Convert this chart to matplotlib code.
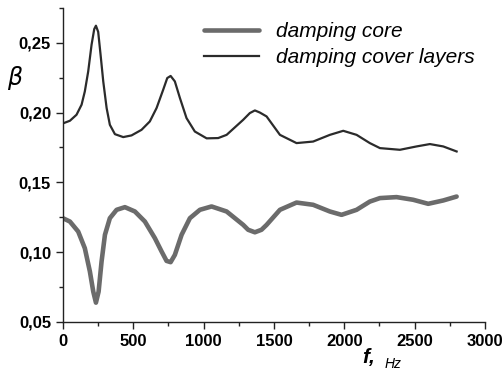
import matplotlib.pyplot as plt
from matplotlib.ticker import MultipleLocator, FuncFormatter

# frequency points (Hz) and damping values
f_cover = [0, 50, 97, 133, 156, 180, 204, 223, 235, 251, 268, 287, 311, 334, 370,
           429, 488, 559, 618, 666, 713, 742, 766, 796, 832, 879, 938, 1022, 1104,
           1164, 1282, 1329, 1365, 1400, 1448, 1543, 1661, 1779, 1898, 1993, 2088,
           2182, 2254, 2396, 2514, 2609, 2704, 2799]
beta_cover = [0.1922, 0.1941, 0.1984, 0.2056, 0.2151, 0.2294, 0.2486, 0.2598,
              0.2622, 0.2578, 0.2414, 0.2223, 0.2032, 0.1912, 0.1845, 0.1824, 0.1836,
              0.1876, 0.1936, 0.2032, 0.2163, 0.2247, 0.2262, 0.2223, 0.2104, 0.196,
              0.1864, 0.1815, 0.1817, 0.184, 0.1948, 0.1996, 0.2015, 0.2, 0.1972,
              0.184, 0.1781, 0.1792, 0.184, 0.1869, 0.184, 0.1781, 0.1745, 0.1733,
              0.1757, 0.1774, 0.1757, 0.1721]

f_core = [0, 50, 109, 156, 192, 216, 235, 254, 275, 299, 334, 382, 441, 512, 583,
          654, 702, 737, 766, 796, 844, 903, 974, 1057, 1164, 1282, 1317, 1365, 1412,
          1448, 1543, 1661, 1779, 1898, 1981, 2088, 2182, 2254, 2372, 2490, 2597,
          2704, 2799]
beta_core = [0.1243, 0.1219, 0.1147, 0.1028, 0.0861, 0.0717, 0.0638, 0.0717, 0.0932,
             0.1124, 0.1243, 0.1303, 0.1322, 0.1291, 0.1219, 0.11, 0.1004, 0.0937,
             0.0928, 0.098, 0.1124, 0.1243, 0.1303, 0.1327, 0.1291, 0.1195, 0.116,
             0.1142, 0.116, 0.1195, 0.1303, 0.1355, 0.1339, 0.1291, 0.1267, 0.1303,
             0.1362, 0.1387, 0.1394, 0.1375, 0.1346, 0.137, 0.1398]

plt.rcParams['font.family'] = 'Liberation Sans'

fig = plt.figure(figsize=(5.03, 3.73), dpi=100)
ax = fig.add_axes([0.125, 0.137, 0.839, 0.842])

ax.plot(f_core, beta_core, color='#6b6b6b', lw=3.3, label='damping core',
        solid_joinstyle='round', solid_capstyle='round')
ax.plot(f_cover, beta_cover, color='#2b2b2b', lw=1.6, label='damping cover layers',
        solid_joinstyle='round')

ax.set_xlim(0, 3000)
ax.set_ylim(0.05, 0.275)
ax.xaxis.set_major_locator(MultipleLocator(500))
ax.xaxis.set_minor_locator(MultipleLocator(250))
ax.yaxis.set_major_locator(MultipleLocator(0.05))
ax.yaxis.set_minor_locator(MultipleLocator(0.025))
ax.yaxis.set_major_formatter(FuncFormatter(lambda v, p: f"{v:.2f}".replace('.', ',')))

for s in ['top', 'right']:
    ax.spines[s].set_visible(False)
for s in ['left', 'bottom']:
    ax.spines[s].set_color('#222222')
    ax.spines[s].set_linewidth(1.0)

ax.tick_params(which='major', length=5, width=1, color='#222222', labelsize=12)
ax.tick_params(which='minor', length=3, width=1, color='#222222')
for lab in ax.get_xticklabels() + ax.get_yticklabels():
    lab.set_fontweight('bold')

leg = ax.legend(loc='upper right', bbox_to_anchor=(1.02, 1.015), frameon=False,
                handlelength=2.65, handletextpad=0.8, labelspacing=0.35,
                prop={'style': 'italic', 'size': 15})

fig.text(0.03, 0.79, r'$\beta$', fontsize=17, ha='center', va='center')
fig.text(0.72, 0.042, 'f,', fontsize=15, fontweight='bold', fontstyle='italic',
         ha='left', va='center')
fig.text(0.765, 0.025, 'Hz', fontsize=10, fontstyle='italic',
         ha='left', va='center')

fig.savefig('out.png', dpi=100)
